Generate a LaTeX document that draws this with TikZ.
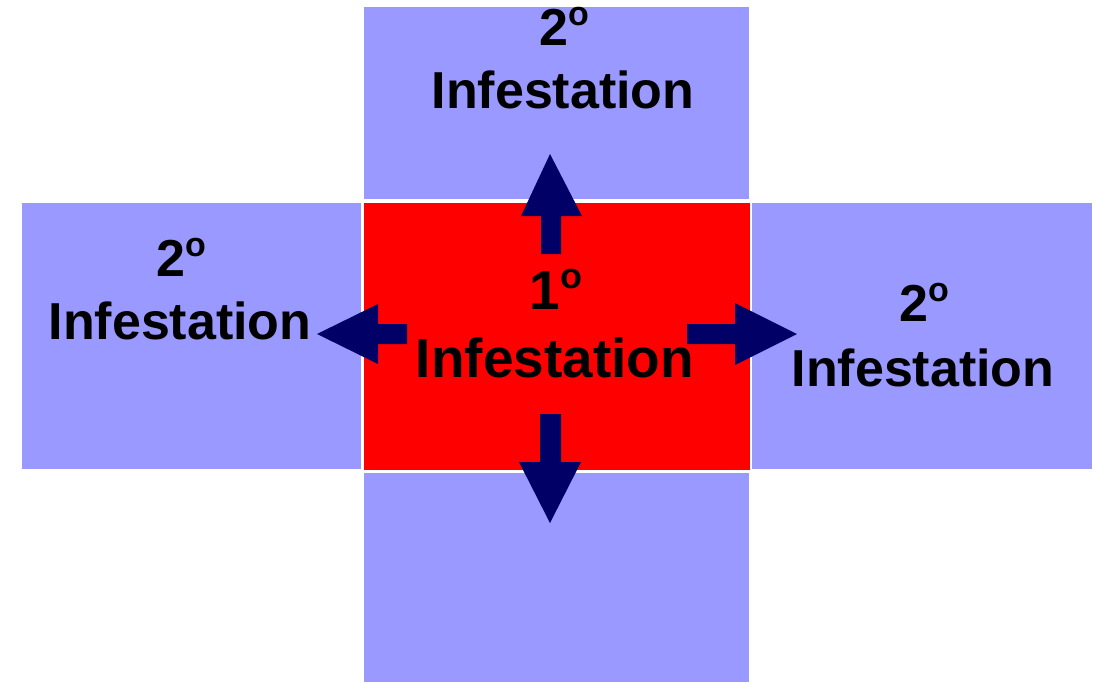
\documentclass[tikz,border=0pt]{standalone}
\usepackage{fontspec}
\setmainfont{Liberation Sans}
\definecolor{lightblue}{HTML}{9999FF}
\definecolor{redbox}{HTML}{FF0000}
\definecolor{navy}{HTML}{000066}
\newcommand\ordsmall{\raisebox{19.5pt}{\fontsize{34}{34}\selectfont o}}
\newcommand\ordbig{\raisebox{20.5pt}{\fontsize{36}{36}\selectfont o}}
\begin{document}
\begin{tikzpicture}[x=1pt,y=-1pt,
  boxbase/.style={inner sep=0pt,outer sep=0pt,anchor=north west},
  bluebox/.style={boxbase,fill=lightblue},
  redrect/.style={boxbase,fill=redbox},
  lbl/.style={inner sep=0pt,anchor=base,font=\fontsize{52}{62}\selectfont\bfseries},
  biglbl/.style={inner sep=0pt,anchor=base,font=\fontsize{55}{66}\selectfont\bfseries},
  blockarrow/.style={fill=navy,draw=none}]
\useasboundingbox (0,0) rectangle (1102,681);
% boxes
\node[bluebox,minimum width=385pt,minimum height=192pt] (topbox) at (364,7) {};
\node[bluebox,minimum width=339pt,minimum height=266pt] (leftbox) at (22,203) {};
\node[redrect,minimum width=386pt,minimum height=267pt] (center) at (364,203) {};
\node[bluebox,minimum width=340pt,minimum height=266pt] (rightbox) at (752,203) {};
\node[bluebox,minimum width=385pt,minimum height=210pt] (bottombox) at (364,473) {};
% labels
\node[lbl] (topnum) at (564,45) {2\ordsmall};
\node[lbl] (toptxt) at (563,108) {Infestation};
\node[lbl] (leftnum) at (181,276) {2\ordsmall};
\node[lbl] (lefttxt) at (180,339) {Infestation};
\node[lbl] (rightnum) at (924,321) {2\ordsmall};
\node[lbl] (righttxt) at (923,386) {Infestation};
\node[biglbl] (cnum) at (556,309) {1\ordbig};
\node[biglbl] (ctxt) at (555,377) {Infestation};
% block arrows
\fill[blockarrow] (541,254) -- (541,216) -- (521,216) -- (550,154) -- (582,216) -- (561,216) -- (561,254) -- cycle;
\fill[blockarrow] (407,324) -- (378,324) -- (378,304) -- (317,334) -- (378,364) -- (378,344) -- (407,344) -- cycle;
\fill[blockarrow] (687,324) -- (735,324) -- (735,303) -- (797,334) -- (735,365) -- (735,344) -- (687,344) -- cycle;
\fill[blockarrow] (540,414) -- (540,462) -- (519,462) -- (550,523) -- (581,462) -- (561,462) -- (561,414) -- cycle;
\end{tikzpicture}
\end{document}
